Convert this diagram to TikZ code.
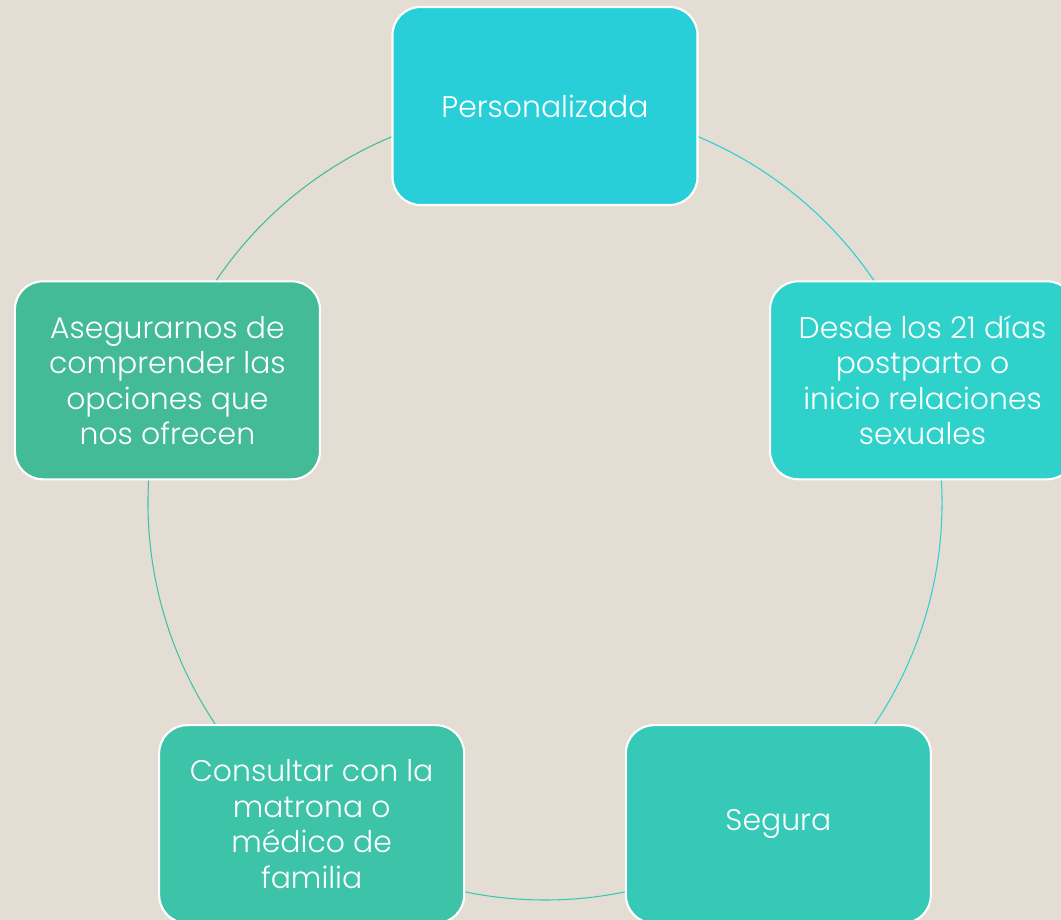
\documentclass[tikz,border=0pt]{standalone}
\usepackage{fontspec}
\setmainfont{Poppins Light}
\usetikzlibrary{positioning, calc, backgrounds}
\definecolor{fondo}{RGB}{227, 221, 211}
\definecolor{cianA}{RGB}{41, 207, 216}
\definecolor{cianB}{RGB}{47, 210, 203}
\definecolor{tealC}{RGB}{55, 201, 183}
\definecolor{tealD}{RGB}{61, 195, 168}
\definecolor{verdeE}{RGB}{68, 187, 151}
\tikzset{
  caja/.style={draw=white, line width=1.2pt, rounded corners=0.56cm,
    minimum width=6.1cm, minimum height=3.96cm, text=white, align=center,
    font=\fontsize{17}{20.2}\selectfont},
  enlace/.style={line width=0.6pt}
}

\begin{document}
\begin{tikzpicture}
  \useasboundingbox (0,0) rectangle (21.22,-18.4);
  \coordinate (c) at (10.9,-10.06);

  \node[caja, fill=cianA] (pers) at ([shift={(90:7.94)}]c) {Personalizada};
  \node[caja, fill=cianB] (desde) at ([shift={(18:7.94)}]c) {Desde los 21 días\\postparto o\\inicio relaciones\\sexuales};
  \node[caja, fill=tealC] (segura) at ([shift={(-54:7.94)}]c) {Segura};
  \node[caja, fill=tealD] (consultar) at ([shift={(-126:7.94)}]c) {Consultar con la\\matrona o\\médico de\\familia};
  \node[caja, fill=verdeE] (asegurar) at ([shift={(162:7.94)}]c) {Asegurarnos de\\comprender las\\opciones que\\nos ofrecen};

  \begin{scope}[on background layer]
    \fill[fondo] (0,0) rectangle (21.22,-18.4);
    % ciclo
    \draw[enlace, cianA] (pers.center) arc[start angle=90, end angle=18, radius=7.94cm];
    \draw[enlace, cianB] (desde.center) arc[start angle=18, end angle=-54, radius=7.94cm];
    \draw[enlace, tealC] (segura.center) arc[start angle=-54, end angle=-126, radius=7.94cm];
    \draw[enlace, tealD] (consultar.center) arc[start angle=-126, end angle=-198, radius=7.94cm];
    \draw[enlace, verdeE] (asegurar.center) arc[start angle=162, end angle=90, radius=7.94cm];
  \end{scope}
\end{tikzpicture}
\end{document}
